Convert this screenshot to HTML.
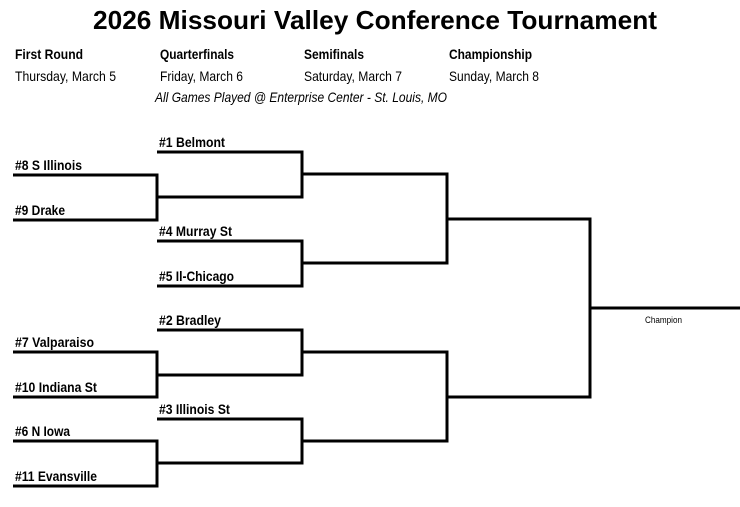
<!DOCTYPE html>
<html><head><meta charset="utf-8"><style>
html,body{margin:0;padding:0;background:#fff;width:740px;height:507px;overflow:hidden}
svg{display:block}
text{font-family:"Liberation Sans",Arial,sans-serif;fill:#000}
.t{font-weight:bold;font-size:14px}
.h{font-weight:bold;font-size:14px}
.d{font-size:14px}
</style></head><body>
<svg width="740" height="507" viewBox="0 0 740 507">
<text x="375" y="29" text-anchor="middle" font-size="26" font-weight="bold" textLength="564" lengthAdjust="spacingAndGlyphs">2026 Missouri Valley Conference Tournament</text>
<text class="h" x="15" y="59" textLength="68" lengthAdjust="spacingAndGlyphs">First Round</text>
<text class="h" x="160" y="59" textLength="74" lengthAdjust="spacingAndGlyphs">Quarterfinals</text>
<text class="h" x="304" y="59" textLength="60" lengthAdjust="spacingAndGlyphs">Semifinals</text>
<text class="h" x="449" y="59" textLength="83" lengthAdjust="spacingAndGlyphs">Championship</text>
<text class="d" x="15" y="81" textLength="101" lengthAdjust="spacingAndGlyphs">Thursday, March 5</text>
<text class="d" x="160" y="81" textLength="83" lengthAdjust="spacingAndGlyphs">Friday, March 6</text>
<text class="d" x="304" y="81" textLength="98" lengthAdjust="spacingAndGlyphs">Saturday, March 7</text>
<text class="d" x="449" y="81" textLength="90" lengthAdjust="spacingAndGlyphs">Sunday, March 8</text>
<text class="d" x="155" y="102" font-style="italic" textLength="292" lengthAdjust="spacingAndGlyphs">All Games Played @ Enterprise Center - St. Louis, MO</text>

<g fill="none" stroke="#000" stroke-width="3">
<polyline points="13,175 157,175 157,220 13,220"/>
<polyline points="157,152 302,152 302,197 157,197"/>
<polyline points="157,241 302,241 302,286 157,286"/>
<polyline points="302,174 447,174 447,263 302,263"/>
<polyline points="13,352 157,352 157,397 13,397"/>
<polyline points="157,330 302,330 302,375 157,375"/>
<polyline points="13,441 157,441 157,486 13,486"/>
<polyline points="157,419 302,419 302,463 157,463"/>
<polyline points="302,352 447,352 447,441 302,441"/>
<polyline points="447,219 590,219 590,397 447,397"/>
<line x1="590" y1="308" x2="740" y2="308"/>
</g>

<text class="t" x="159" y="147" textLength="66" lengthAdjust="spacingAndGlyphs">#1 Belmont</text>
<text class="t" x="15" y="170" textLength="67" lengthAdjust="spacingAndGlyphs">#8 S Illinois</text>
<text class="t" x="15" y="215" textLength="50" lengthAdjust="spacingAndGlyphs">#9 Drake</text>
<text class="t" x="159" y="236" textLength="73" lengthAdjust="spacingAndGlyphs">#4 Murray St</text>
<text class="t" x="159" y="281" textLength="75" lengthAdjust="spacingAndGlyphs">#5 Il-Chicago</text>
<text class="t" x="159" y="325" textLength="62" lengthAdjust="spacingAndGlyphs">#2 Bradley</text>
<text class="t" x="15" y="347" textLength="79" lengthAdjust="spacingAndGlyphs">#7 Valparaiso</text>
<text class="t" x="15" y="392" textLength="82" lengthAdjust="spacingAndGlyphs">#10 Indiana St</text>
<text class="t" x="159" y="414" textLength="71" lengthAdjust="spacingAndGlyphs">#3 Illinois St</text>
<text class="t" x="15" y="436" textLength="55" lengthAdjust="spacingAndGlyphs">#6 N Iowa</text>
<text class="t" x="15" y="481" textLength="82" lengthAdjust="spacingAndGlyphs">#11 Evansville</text>
<text x="645" y="323" font-size="9" textLength="37" lengthAdjust="spacingAndGlyphs">Champion</text>
</svg>
</body></html>
